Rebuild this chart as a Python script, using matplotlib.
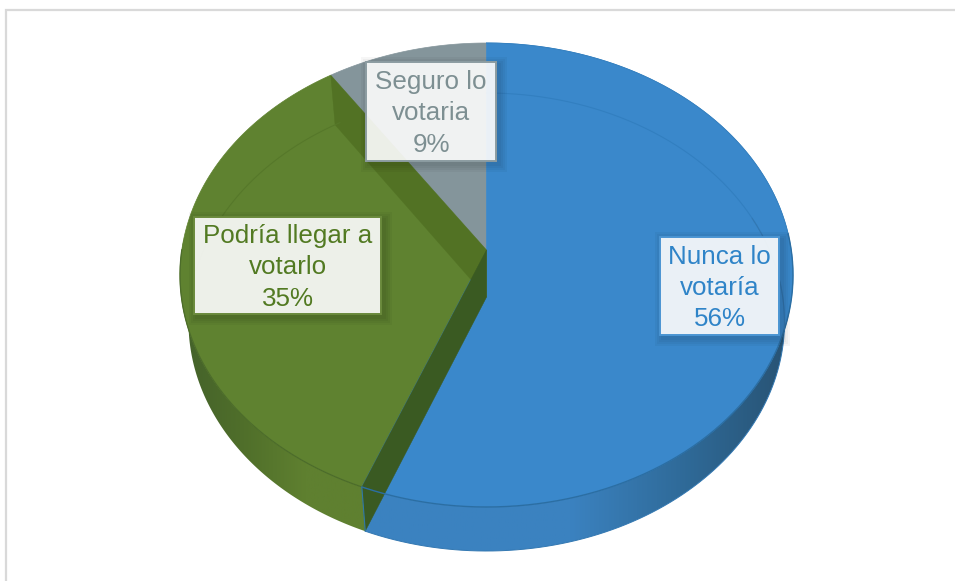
import numpy as np
import matplotlib
matplotlib.use('Agg')
import matplotlib.pyplot as plt
from matplotlib.colors import LinearSegmentedColormap
from matplotlib.patches import Polygon, Rectangle

plt.rcParams['font.family'] = ['Liberation Sans', 'DejaVu Sans']

# Data, clockwise from the top of the pie
categories = ['Nunca lo\nvotaría', 'Podría llegar a\nvotarlo', 'Seguro lo\nvotaria']
percents = [56, 34.6, 9.4]

# Top and bottom discs of the translucent 3D pie (pixels)
TOP = dict(cx=486.5, cy=275, rx=306.5, ry=232)
BOTTOM = dict(cx=486.5, cy=322, rx=298, ry=229)
TILT = 0.108  # perspective: how far the pie centre sits above the ellipse centre

BLUE, GREEN, GRAY = '#3a88cb', '#5f8230', '#84959b'
TEXT_COLORS = ['#2f84c8', '#527a22', '#7d8f92']
BOX_EDGES = ['#4a94d2', '#6a8a3c', '#8c9ca1']
BOXES = [(660, 237, 119, 98), (194, 217, 187, 97), (366, 62, 130, 99)]


def project(disc, t):
    # t is the clockwise angle from the top, radians
    u, v = np.sin(t), np.cos(t)
    d = 1 + TILT * v
    px = u * np.sqrt(1 - TILT ** 2) / d
    py = (v + TILT) / d
    return np.column_stack([disc['cx'] + px * disc['rx'], disc['cy'] - py * disc['ry']])


def centre(disc):
    return np.array([[disc['cx'], disc['cy'] - TILT * disc['ry']]])


def arc(disc, start, end):
    return project(disc, np.linspace(start, end, 200))


fig = plt.figure(figsize=(9.55, 5.81), dpi=100)
ax = fig.add_axes([0, 0, 1, 1])
ax.set_axis_off()

# Slice angles from the values
edges = np.cumsum([0] + percents) / sum(percents) * 2 * np.pi
blue_end = edges[1]
green_end = edges[2]

# Outer side walls, shaded with x
side_specs = [
    (np.pi / 2 - 0.25, blue_end, ['#3b82c0', '#3b82c0', '#3b82c0', '#2f6a98', '#27506f'], 340, 800),
    (blue_end, 3 * np.pi / 2 + 0.25, ['#42602a', '#4f6e2a', '#5f8030', '#5f8030'], 175, 370),
]
for start, end, cols, x0, x1 in side_specs:
    pts = np.vstack([arc(TOP, start, end), arc(BOTTOM, end, start)])
    patch = Polygon(pts, closed=True, facecolor='none', edgecolor='none', zorder=1)
    ax.add_patch(patch)
    cmap = LinearSegmentedColormap.from_list('side', cols)
    im = ax.imshow(np.linspace(0, 1, 256)[None, :], cmap=cmap, aspect='auto',
                   extent=[x0, x1, 560, 240], zorder=1)
    im.set_clip_path(patch)

# Top faces
faces = [(edges[1], edges[2], GREEN), (edges[2], edges[3], GRAY), (edges[0], edges[1], BLUE)]
for start, end, col in faces:
    pts = np.vstack([centre(TOP), arc(TOP, start, end)])
    ax.add_patch(Polygon(pts, closed=True, facecolor=col, edgecolor=col, linewidth=0.5, zorder=2))

# Radial walls seen through the top
walls = [(green_end, '#527224'), (blue_end, '#3a5a22')]
for t, col in walls:
    pts = np.vstack([centre(TOP), centre(BOTTOM), project(BOTTOM, np.array([t])), project(TOP, np.array([t]))])
    ax.add_patch(Polygon(pts, closed=True, facecolor=col, edgecolor=col, linewidth=0.3, zorder=3))

# Faint bottom disc lines
line = arc(BOTTOM, 0, 1.72)
ax.plot(line[:, 0], line[:, 1], color='#327fc0', lw=0.8, zorder=4)
line = arc(BOTTOM, green_end + 0.02, 3 * np.pi / 2 + 0.12)
ax.plot(line[:, 0], line[:, 1], color='#56782a', lw=0.8, zorder=4)

# Rim lines
line = arc(TOP, 1.5, blue_end)
ax.plot(line[:, 0], line[:, 1], color='#2b6ea3', lw=1.0, zorder=4)
line = arc(TOP, blue_end, 3 * np.pi / 2)
ax.plot(line[:, 0], line[:, 1], color='#4c6c2a', lw=0.9, zorder=4)
line = arc(TOP, 0, 1.5)
ax.plot(line[:, 0], line[:, 1], color='#3580bf', lw=0.7, zorder=4)
line = arc(BOTTOM, 1.2, blue_end)
ax.plot(line[:, 0], line[:, 1], color='#3378b2', lw=0.7, zorder=4)
p = np.vstack([project(TOP, np.array([blue_end])), project(BOTTOM, np.array([blue_end]))])
ax.plot(p[:, 0], p[:, 1], color='#2f78a8', lw=0.8, zorder=4)

# Label boxes with soft shadow
for i, (x, y, w, h) in enumerate(BOXES):
    for grow in [8, 6, 4, 2]:
        ax.add_patch(Rectangle((x + 3 - grow, y + 3 - grow), w + 2 * grow, h + 2 * grow,
                               facecolor='black', edgecolor='none', alpha=0.035, zorder=5))
    ax.add_patch(Rectangle((x, y), w, h, facecolor='white', edgecolor='none', alpha=0.9, zorder=6))
    ax.add_patch(Rectangle((x, y), w, h, facecolor='none', edgecolor=BOX_EDGES[i],
                           linewidth=1.4, zorder=6))
    ax.text(x + w / 2, y + h / 2 + 2, f'{categories[i]}\n{percents[i]:.0f}%', color=TEXT_COLORS[i],
            fontsize=18.7, ha='center', va='center', linespacing=1.375, zorder=7)

# Chart frame
ax.plot([6, 6, 955], [581, 10, 10], color='#d9d9d9', lw=1.6, zorder=8, solid_joinstyle='miter')

ax.set_xlim(0, 955)
ax.set_ylim(581, 0)
fig.savefig('out.png', dpi=100, facecolor='white')
plt.close(fig)
